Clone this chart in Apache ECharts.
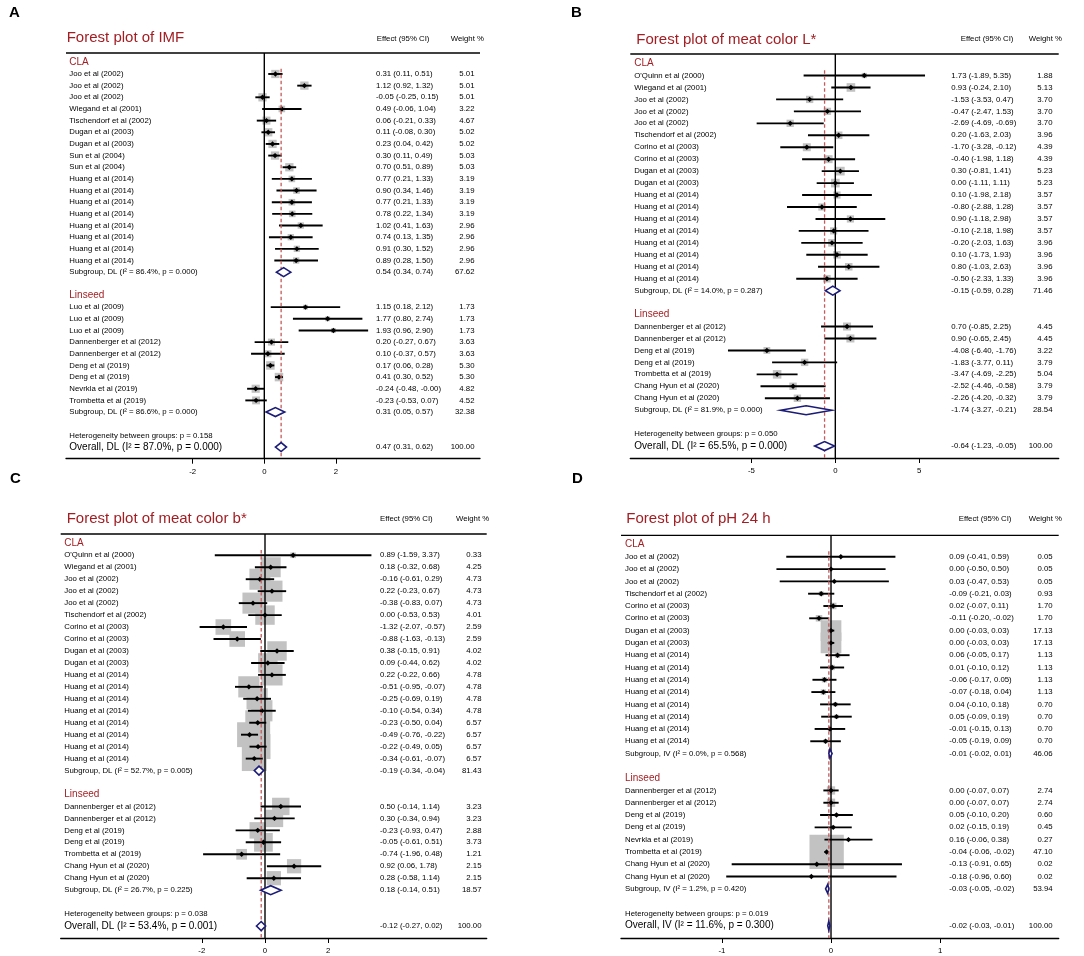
<!DOCTYPE html>
<html><head><meta charset="utf-8">
<script src="https://cdn.jsdelivr.net/npm/echarts@6/dist/echarts.min.js"></script>
<style>html,body{margin:0;padding:0;background:#fff}#c{width:1084px;height:956px}</style>
</head><body><div id="c"></div>
<script>
// ================= DATA =================
const GROUPS = ["CLA", "Linseed"];

// ---- Panel A: IMF ----
const A_title = "Forest plot of IMF";
const A_claLabels = ["Joo et al (2002)","Joo et al (2002)","Joo et al (2002)","Wiegand et al (2001)","Tischendorf et al (2002)","Dugan et al (2003)","Dugan et al (2003)","Sun et al (2004)","Sun et al (2004)","Huang et al (2014)","Huang et al (2014)","Huang et al (2014)","Huang et al (2014)","Huang et al (2014)","Huang et al (2014)","Huang et al (2014)","Huang et al (2014)"];
const A_claEst = [0.31,1.12,-0.05,0.49,0.06,0.11,0.23,0.30,0.70,0.77,0.90,0.77,0.78,1.02,0.74,0.91,0.89];
const A_claLo  = [0.11,0.92,-0.25,-0.06,-0.21,-0.08,0.04,0.11,0.51,0.21,0.34,0.21,0.22,0.41,0.13,0.30,0.28];
const A_claHi  = [0.51,1.32,0.15,1.04,0.33,0.30,0.42,0.49,0.89,1.33,1.46,1.33,1.34,1.63,1.35,1.52,1.50];
const A_claW   = [5.01,5.01,5.01,3.22,4.67,5.02,5.02,5.03,5.03,3.19,3.19,3.19,3.19,2.96,2.96,2.96,2.96];
const A_linLabels = ["Luo et al (2009)","Luo et al (2009)","Luo et al (2009)","Dannenberger et al (2012)","Dannenberger et al (2012)","Deng et al (2019)","Deng et al (2019)","Nevrkla et al (2019)","Trombetta et al (2019)"];
const A_linEst = [1.15,1.77,1.93,0.20,0.10,0.17,0.41,-0.24,-0.23];
const A_linLo  = [0.18,0.80,0.96,-0.27,-0.37,0.06,0.30,-0.48,-0.53];
const A_linHi  = [2.12,2.74,2.90,0.67,0.57,0.28,0.52,-0.00,0.07];
const A_linW   = [1.73,1.73,1.73,3.63,3.63,5.30,5.30,4.82,4.52];
const A_subLabels = ["Subgroup, DL (I\u00b2 = 86.4%, p = 0.000)","Subgroup, DL (I\u00b2 = 86.6%, p = 0.000)"];
const A_subEst = [0.54,0.31];
const A_subLo  = [0.34,0.05];
const A_subHi  = [0.74,0.57];
const A_subW   = [67.62,32.38];
const A_hetText = "Heterogeneity between groups: p = 0.158";
const A_overallLabel = "Overall, DL (I\u00b2 = 87.0%, p = 0.000)";
const A_overall = [0.47,0.31,0.62];
const A_overallW = 100.00;
const A_ticks = [-2,0,2];

// ---- Panel B: meat color L* ----
const B_title = "Forest plot of meat color L*";
const B_claLabels = ["O'Quinn et al (2000)","Wiegand et al (2001)","Joo et al (2002)","Joo et al (2002)","Joo et al (2002)","Tischendorf et al (2002)","Corino et al (2003)","Corino et al (2003)","Dugan et al (2003)","Dugan et al (2003)","Huang et al (2014)","Huang et al (2014)","Huang et al (2014)","Huang et al (2014)","Huang et al (2014)","Huang et al (2014)","Huang et al (2014)","Huang et al (2014)"];
const B_claEst = [1.73,0.93,-1.53,-0.47,-2.69,0.20,-1.70,-0.40,0.30,0.00,0.10,-0.80,0.90,-0.10,-0.20,0.10,0.80,-0.50];
const B_claLo  = [-1.89,-0.24,-3.53,-2.47,-4.69,-1.63,-3.28,-1.98,-0.81,-1.11,-1.98,-2.88,-1.18,-2.18,-2.03,-1.73,-1.03,-2.33];
const B_claHi  = [5.35,2.10,0.47,1.53,-0.69,2.03,-0.12,1.18,1.41,1.11,2.18,1.28,2.98,1.98,1.63,1.93,2.63,1.33];
const B_claW   = [1.88,5.13,3.70,3.70,3.70,3.96,4.39,4.39,5.23,5.23,3.57,3.57,3.57,3.57,3.96,3.96,3.96,3.96];
const B_linLabels = ["Dannenberger et al (2012)","Dannenberger et al (2012)","Deng et al (2019)","Deng et al (2019)","Trombetta et al (2019)","Chang Hyun et al (2020)","Chang Hyun et al (2020)"];
const B_linEst = [0.70,0.90,-4.08,-1.83,-3.47,-2.52,-2.26];
const B_linLo  = [-0.85,-0.65,-6.40,-3.77,-4.69,-4.46,-4.20];
const B_linHi  = [2.25,2.45,-1.76,0.11,-2.25,-0.58,-0.32];
const B_linW   = [4.45,4.45,3.22,3.79,5.04,3.79,3.79];
const B_subLabels = ["Subgroup, DL (I\u00b2 = 14.0%, p = 0.287)","Subgroup, DL (I\u00b2 = 81.9%, p = 0.000)"];
const B_subEst = [-0.15,-1.74];
const B_subLo  = [-0.59,-3.27];
const B_subHi  = [0.28,-0.21];
const B_subW   = [71.46,28.54];
const B_hetText = "Heterogeneity between groups: p = 0.050";
const B_overallLabel = "Overall, DL (I\u00b2 = 65.5%, p = 0.000)";
const B_overall = [-0.64,-1.23,-0.05];
const B_overallW = 100.00;
const B_ticks = [-5,0,5];

// ---- Panel C: meat color b* ----
const C_title = "Forest plot of meat color b*";
const C_claLabels = ["O'Quinn et al (2000)","Wiegand et al (2001)","Joo et al (2002)","Joo et al (2002)","Joo et al (2002)","Tischendorf et al (2002)","Corino et al (2003)","Corino et al (2003)","Dugan et al (2003)","Dugan et al (2003)","Huang et al (2014)","Huang et al (2014)","Huang et al (2014)","Huang et al (2014)","Huang et al (2014)","Huang et al (2014)","Huang et al (2014)","Huang et al (2014)"];
const C_claEst = [0.89,0.18,-0.16,0.22,-0.38,0.00,-1.32,-0.88,0.38,0.09,0.22,-0.51,-0.25,-0.10,-0.23,-0.49,-0.22,-0.34];
const C_claLo  = [-1.59,-0.32,-0.61,-0.23,-0.83,-0.53,-2.07,-1.63,-0.15,-0.44,-0.22,-0.95,-0.69,-0.54,-0.50,-0.76,-0.49,-0.61];
const C_claHi  = [3.37,0.68,0.29,0.67,0.07,0.53,-0.57,-0.13,0.91,0.62,0.66,-0.07,0.19,0.34,0.04,-0.22,0.05,-0.07];
const C_claW   = [0.33,4.25,4.73,4.73,4.73,4.01,2.59,2.59,4.02,4.02,4.78,4.78,4.78,4.78,6.57,6.57,6.57,6.57];
const C_linLabels = ["Dannenberger et al (2012)","Dannenberger et al (2012)","Deng et al (2019)","Deng et al (2019)","Trombetta et al (2019)","Chang Hyun et al (2020)","Chang Hyun et al (2020)"];
const C_linEst = [0.50,0.30,-0.23,-0.05,-0.74,0.92,0.28];
const C_linLo  = [-0.14,-0.34,-0.93,-0.61,-1.96,0.06,-0.58];
const C_linHi  = [1.14,0.94,0.47,0.51,0.48,1.78,1.14];
const C_linW   = [3.23,3.23,2.88,3.73,1.21,2.15,2.15];
const C_subLabels = ["Subgroup, DL (I\u00b2 = 52.7%, p = 0.005)","Subgroup, DL (I\u00b2 = 26.7%, p = 0.225)"];
const C_subEst = [-0.19,0.18];
const C_subLo  = [-0.34,-0.14];
const C_subHi  = [-0.04,0.51];
const C_subW   = [81.43,18.57];
const C_hetText = "Heterogeneity between groups: p = 0.038";
const C_overallLabel = "Overall, DL (I\u00b2 = 53.4%, p = 0.001)";
const C_overall = [-0.12,-0.27,0.02];
const C_overallW = 100.00;
const C_ticks = [-2,0,2];

// ---- Panel D: pH 24 h ----
const D_title = "Forest plot of pH 24 h";
const D_claLabels = ["Joo et al (2002)","Joo et al (2002)","Joo et al (2002)","Tischendorf et al (2002)","Corino et al (2003)","Corino et al (2003)","Dugan et al (2003)","Dugan et al (2003)","Huang et al (2014)","Huang et al (2014)","Huang et al (2014)","Huang et al (2014)","Huang et al (2014)","Huang et al (2014)","Huang et al (2014)","Huang et al (2014)"];
const D_claEst = [0.09,0.00,0.03,-0.09,0.02,-0.11,0.00,0.00,0.06,0.01,-0.06,-0.07,0.04,0.05,-0.01,-0.05];
const D_claLo  = [-0.41,-0.50,-0.47,-0.21,-0.07,-0.20,-0.03,-0.03,-0.05,-0.10,-0.17,-0.18,-0.10,-0.09,-0.15,-0.19];
const D_claHi  = [0.59,0.50,0.53,0.03,0.11,-0.02,0.03,0.03,0.17,0.12,0.05,0.04,0.18,0.19,0.13,0.09];
const D_claW   = [0.05,0.05,0.05,0.93,1.70,1.70,17.13,17.13,1.13,1.13,1.13,1.13,0.70,0.70,0.70,0.70];
const D_linLabels = ["Dannenberger et al (2012)","Dannenberger et al (2012)","Deng et al (2019)","Deng et al (2019)","Nevrkla et al (2019)","Trombetta et al (2019)","Chang Hyun et al (2020)","Chang Hyun et al (2020)"];
const D_linEst = [0.00,0.00,0.05,0.02,0.16,-0.04,-0.13,-0.18];
const D_linLo  = [-0.07,-0.07,-0.10,-0.15,-0.06,-0.06,-0.91,-0.96];
const D_linHi  = [0.07,0.07,0.20,0.19,0.38,-0.02,0.65,0.60];
const D_linW   = [2.74,2.74,0.60,0.45,0.27,47.10,0.02,0.02];
const D_subLabels = ["Subgroup, IV (I\u00b2 = 0.0%, p = 0.568)","Subgroup, IV (I\u00b2 = 1.2%, p = 0.420)"];
const D_subEst = [-0.01,-0.03];
const D_subLo  = [-0.02,-0.05];
const D_subHi  = [0.01,-0.02];
const D_subW   = [46.06,53.94];
const D_hetText = "Heterogeneity between groups: p = 0.019";
const D_overallLabel = "Overall, IV (I\u00b2 = 11.6%, p = 0.300)";
const D_overall = [-0.02,-0.03,-0.01];
const D_overallW = 100.00;
const D_ticks = [-1,0,1];

const panels = [
  {letter:"A", title:A_title, groups:[{labels:A_claLabels,est:A_claEst,lo:A_claLo,hi:A_claHi,w:A_claW},{labels:A_linLabels,est:A_linEst,lo:A_linLo,hi:A_linHi,w:A_linW}],
   sub:{labels:A_subLabels,est:A_subEst,lo:A_subLo,hi:A_subHi,w:A_subW}, het:A_hetText, ovLabel:A_overallLabel, ov:A_overall, ovW:A_overallW, ticks:A_ticks},
  {letter:"B", title:B_title, groups:[{labels:B_claLabels,est:B_claEst,lo:B_claLo,hi:B_claHi,w:B_claW},{labels:B_linLabels,est:B_linEst,lo:B_linLo,hi:B_linHi,w:B_linW}],
   sub:{labels:B_subLabels,est:B_subEst,lo:B_subLo,hi:B_subHi,w:B_subW}, het:B_hetText, ovLabel:B_overallLabel, ov:B_overall, ovW:B_overallW, ticks:B_ticks},
  {letter:"C", title:C_title, groups:[{labels:C_claLabels,est:C_claEst,lo:C_claLo,hi:C_claHi,w:C_claW},{labels:C_linLabels,est:C_linEst,lo:C_linLo,hi:C_linHi,w:C_linW}],
   sub:{labels:C_subLabels,est:C_subEst,lo:C_subLo,hi:C_subHi,w:C_subW}, het:C_hetText, ovLabel:C_overallLabel, ov:C_overall, ovW:C_overallW, ticks:C_ticks},
  {letter:"D", title:D_title, groups:[{labels:D_claLabels,est:D_claEst,lo:D_claLo,hi:D_claHi,w:D_claW},{labels:D_linLabels,est:D_linEst,lo:D_linLo,hi:D_linHi,w:D_linW}],
   sub:{labels:D_subLabels,est:D_subEst,lo:D_subLo,hi:D_subHi,w:D_subW}, het:D_hetText, ovLabel:D_overallLabel, ov:D_overall, ovW:D_overallW, ticks:D_ticks}
];

// ================= LAYOUT (pixels / styles) =================
const layouts = [
  {letter:[9,13], title:[66.7,37.7], head:39.3, effH:376.7, wH:450.7, grid:{left:66, top:53, width:414, height:405.7}, xmin:-5.539, xmax:6.025, t:0.8, labX:69.3, effX:376, wX:474.5, k:3.7},
  {letter:[571,13], title:[636.3,40], head:39.3, effH:960.7, wH:1028.7, grid:{left:630.3, top:54, width:428.4, height:404}, xmin:-12.224, xmax:13.32, t:0.8, labX:634.3, effX:951.3, wX:1052.5, k:3.8},
  {letter:[10,479.5], title:[66.7,519.3], head:519.3, effH:380, wH:456, grid:{left:60.7, top:534, width:426, height:404}, xmin:-6.469, xmax:7.02, t:0.78, labX:64.3, effX:380, wX:481.5, k:9.7},
  {letter:[572,479.5], title:[626.3,519.3], head:519.3, effH:958.7, wH:1028.7, grid:{left:621, top:535.3, width:437.7, height:402.7}, xmin:-1.924, xmax:2.086, t:0.75, labX:625, effX:949.3, wX:1052.7, k:5.0}
];

const RED = '#A21E23';
const NAVY = '#1B1B78';
const BOX = '#C2C2C2';
const FF = '"Liberation Sans", Arial, sans-serif';
const SMALL = '7.8px ' + FF;

function fmt(v){ const s = Math.abs(v).toFixed(2); return (v < 0 || Object.is(v, -0)) ? '-' + s : s; }
function effStr(e, l, h){ return fmt(e) + ' (' + fmt(l) + ', ' + fmt(h) + ')'; }

function makeRows(P){
  const rows = [];
  let r = 0;
  P.groups.forEach((g, gi) => {
    rows.push({kind:'group', row:r, text:GROUPS[gi]}); r++;
    g.labels.forEach((lab, i) => { rows.push({kind:'study', row:r, text:lab, est:g.est[i], lo:g.lo[i], hi:g.hi[i], w:g.w[i]}); r++; });
    rows.push({kind:'sub', row:r, text:P.sub.labels[gi], est:P.sub.est[gi], lo:P.sub.lo[gi], hi:P.sub.hi[gi], w:P.sub.w[gi]}); r++;
    r++;
  });
  rows.push({kind:'het', row:r, text:P.het}); r++;
  rows.push({kind:'overall', row:r, text:P.ovLabel, est:P.ov[0], lo:P.ov[1], hi:P.ov[2], w:P.ovW}); r++;
  return {rows, axisRow:r};
}

const option = {
  animation:false,
  backgroundColor:'#fff',
  grid:[], xAxis:[], yAxis:[], series:[], graphic:[]
};

panels.forEach((P, pi) => {
  const L = layouts[pi];
  const {rows, axisRow} = makeRows(P);
  const studies = rows.filter(r => r.kind === 'study');
  const diamonds = rows.filter(r => r.kind === 'sub' || r.kind === 'overall');

  option.grid.push(Object.assign({containLabel:false}, L.grid));
  option.xAxis.push({
    type:'value', gridIndex:pi, min:L.xmin, max:L.xmax,
    splitLine:{show:false},
    axisLine:{show:true, onZero:false, lineStyle:{color:'#000', width:1.3}},
    axisTick:{show:true, customValues:P.ticks, length:5, lineStyle:{color:'#000', width:1}},
    axisLabel:{show:true, customValues:P.ticks, color:'#000', fontSize:7.8, fontFamily:FF, margin:9,
      formatter:v => String(v)}
  });
  option.yAxis.push({type:'value', gridIndex:pi, min:-L.t, max:axisRow, inverse:true, show:false});

  // boxes
  option.series.push({
    type:'custom', xAxisIndex:pi, yAxisIndex:pi, z:1, silent:true,
    data:studies.map(s => [s.est, s.row, s.w]),
    renderItem:(params, api) => {
      const c = api.coord([api.value(0), api.value(1)]);
      const sz = L.k * Math.sqrt(api.value(2));
      return {type:'rect', shape:{x:c[0]-sz/2, y:c[1]-sz/2, width:sz, height:sz}, style:{fill:BOX}};
    }
  });
  // zero line + top line
  option.series.push({
    type:'custom', xAxisIndex:pi, yAxisIndex:pi, z:2, silent:true,
    data:[[0, 0]],
    renderItem:(params, api) => {
      const cs = params.coordSys;
      const x0 = api.coord([0, 0])[0];
      return {type:'group', children:[
        {type:'line', shape:{x1:x0, y1:cs.y, x2:x0, y2:cs.y+cs.height}, style:{stroke:'#000', lineWidth:1.4}},
        {type:'line', shape:{x1:cs.x, y1:cs.y, x2:cs.x+cs.width, y2:cs.y}, style:{stroke:'#000', lineWidth:1.3}}
      ]};
    }
  });
  // CI lines and point markers
  option.series.push({
    type:'custom', xAxisIndex:pi, yAxisIndex:pi, z:3, silent:true,
    data:studies.map(s => [s.est, s.row, s.lo, s.hi]),
    renderItem:(params, api) => {
      const c = api.coord([api.value(0), api.value(1)]);
      const a = api.coord([api.value(2), api.value(1)]);
      const b = api.coord([api.value(3), api.value(1)]);
      const m = 2.7;
      return {type:'group', children:[
        {type:'line', shape:{x1:a[0], y1:a[1], x2:b[0], y2:b[1]}, style:{stroke:'#000', lineWidth:1.9}},
        {type:'polygon', shape:{points:[[c[0]-m,c[1]],[c[0],c[1]-m],[c[0]+m,c[1]],[c[0],c[1]+m]]}, style:{fill:'#000'}}
      ]};
    }
  });
  // dashed overall line
  option.series.push({
    type:'custom', xAxisIndex:pi, yAxisIndex:pi, z:4, silent:true,
    data:[[P.ov[0], 0.55]],
    renderItem:(params, api) => {
      const cs = params.coordSys;
      const c = api.coord([api.value(0), api.value(1)]);
      return {type:'line', shape:{x1:c[0], y1:c[1], x2:c[0], y2:cs.y+cs.height}, style:{stroke:'#C45A5A', lineWidth:1.3, lineDash:[3.5,2.5]}};
    }
  });
  // diamonds
  option.series.push({
    type:'custom', xAxisIndex:pi, yAxisIndex:pi, z:5, silent:true,
    data:diamonds.map(s => [s.est, s.row, s.lo, s.hi]),
    renderItem:(params, api) => {
      const c = api.coord([api.value(0), api.value(1)]);
      const a = api.coord([api.value(2), api.value(1)]);
      const b = api.coord([api.value(3), api.value(1)]);
      const h = 4.5;
      return {type:'polygon', shape:{points:[[a[0],c[1]],[c[0],c[1]-h],[b[0],c[1]],[c[0],c[1]+h]]}, style:{fill:'#fff', stroke:NAVY, lineWidth:1.6}};
    }
  });
  // texts
  option.series.push({
    type:'custom', xAxisIndex:pi, yAxisIndex:pi, z:6, silent:true,
    data:rows.map(r => [0, r.row]),
    renderItem:(params, api) => {
      const r = rows[params.dataIndex];
      const y = api.coord([0, api.value(1)])[1];
      const kids = [];
      if (r.kind === 'group') {
        kids.push({type:'text', x:L.labX, y:y, style:{text:r.text, fill:RED, font:'10px ' + FF, textAlign:'left', textVerticalAlign:'middle'}});
      } else if (r.kind === 'het') {
        kids.push({type:'text', x:L.labX, y:y, style:{text:r.text, fill:'#000', font:SMALL, textAlign:'left', textVerticalAlign:'middle'}});
      } else {
        const font = r.kind === 'overall' ? '10px ' + FF : SMALL;
        kids.push({type:'text', x:L.labX, y:y, style:{text:r.text, fill:'#000', font:font, textAlign:'left', textVerticalAlign:'middle'}});
        kids.push({type:'text', x:L.effX, y:y, style:{text:effStr(r.est, r.lo, r.hi), fill:'#000', font:SMALL, textAlign:'left', textVerticalAlign:'middle'}});
        kids.push({type:'text', x:L.wX, y:y, style:{text:r.w.toFixed(2), fill:'#000', font:SMALL, textAlign:'right', textVerticalAlign:'middle'}});
      }
      return {type:'group', children:kids};
    }
  });

  // graphic: letter, title, headers
  option.graphic.push(
    {type:'text', left:L.letter[0], top:L.letter[1]-8, style:{text:P.letter, fill:'#000', font:'bold 15px ' + FF}},
    {type:'text', x:L.title[0], y:L.title[1], style:{text:P.title, fill:RED, font:'15px ' + FF, textAlign:'left', textVerticalAlign:'middle'}},
    {type:'text', x:L.effH, y:L.head, style:{text:'Effect (95% CI)', fill:'#000', font:SMALL, textAlign:'left', textVerticalAlign:'middle'}},
    {type:'text', x:L.wH, y:L.head, style:{text:'Weight %', fill:'#000', font:SMALL, textAlign:'left', textVerticalAlign:'middle'}}
  );
});

const chart = echarts.init(document.getElementById('c'), null, {renderer:'canvas', width:1084, height:956});
chart.setOption(option);
</script>
</body></html>
